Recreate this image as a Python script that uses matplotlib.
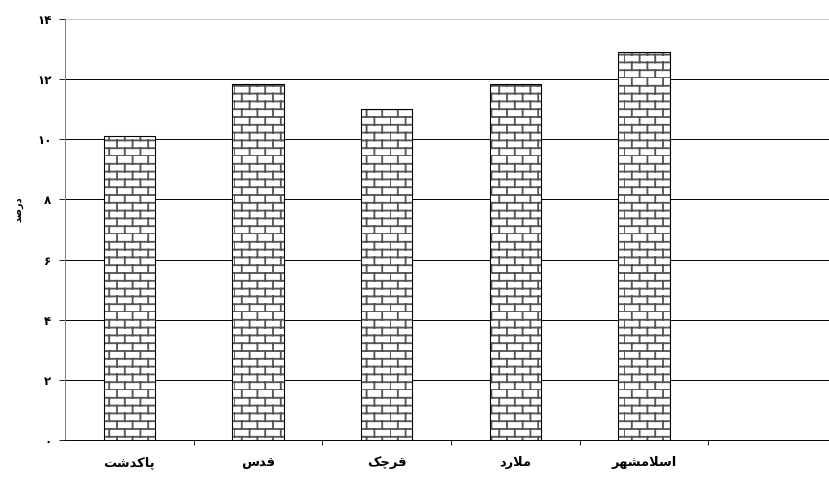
import warnings
warnings.filterwarnings("ignore")
import numpy as np
import matplotlib
matplotlib.use("Agg")
import matplotlib.pyplot as plt
import matplotlib.hatch as mhatch
from matplotlib.path import Path
from matplotlib.ticker import FixedLocator, FuncFormatter

# ---------------- data ----------------
categories = ["پاکدشت", "قدس", "قرچک", "ملارد", "اسلامشهر"]
values = [10.1, 11.85, 11.0, 11.85, 12.9]
y_ticks = [0, 2, 4, 6, 8, 10, 12, 14]
y_label = "درصد"

# ---------------- simple Persian shaping ----------------
FORMS = {  # iso, fin, ini, med (None -> right-joining only)
    "\u0627": ("\uFE8D", "\uFE8E", None, None),
    "\u067E": ("\uFB56", "\uFB57", "\uFB58", "\uFB59"),
    "\u062A": ("\uFE95", "\uFE96", "\uFE97", "\uFE98"),
    "\u0686": ("\uFB7A", "\uFB7B", "\uFB7C", "\uFB7D"),
    "\u062F": ("\uFEA9", "\uFEAA", None, None),
    "\u0631": ("\uFEAD", "\uFEAE", None, None),
    "\u0633": ("\uFEB1", "\uFEB2", "\uFEB3", "\uFEB4"),
    "\u0634": ("\uFEB5", "\uFEB6", "\uFEB7", "\uFEB8"),
    "\u0635": ("\uFEB9", "\uFEBA", "\uFEBB", "\uFEBC"),
    "\u0642": ("\uFED5", "\uFED6", "\uFED7", "\uFED8"),
    "\u06A9": ("\uFB8E", "\uFB8F", "\uFB90", "\uFB91"),
    "\u0644": ("\uFEDD", "\uFEDE", "\uFEDF", "\uFEE0"),
    "\u0645": ("\uFEE1", "\uFEE2", "\uFEE3", "\uFEE4"),
    "\u0647": ("\uFEE9", "\uFEEA", "\uFEEB", "\uFEEC"),
    "LA": ("\uFEFB", "\uFEFC", None, None),
}


def shape(text):
    toks = []
    i = 0
    while i < len(text):
        if text[i] == "\u0644" and i + 1 < len(text) and text[i + 1] == "\u0627":
            toks.append("LA")
            i += 2
        else:
            toks.append(text[i])
            i += 1
    out = []
    for k, t in enumerate(toks):
        f = FORMS.get(t)
        if f is None:
            out.append(t)
            continue
        prev = FORMS.get(toks[k - 1]) if k > 0 else None
        nxt = FORMS.get(toks[k + 1]) if k + 1 < len(toks) else None
        jp = prev is not None and prev[2] is not None
        jn = nxt is not None and f[2] is not None
        if jp and jn:
            out.append(f[3])
        elif jp:
            out.append(f[1])
        elif jn:
            out.append(f[2])
        else:
            out.append(f[0])
    return "".join(reversed(out))


FA_DIGITS = "۰۱۲۳۴۵۶۷۸۹"


def fa_num(v, pos=None):
    return "".join(FA_DIGITS[int(c)] if c.isdigit() else c for c in str(int(round(v))))


# ---------------- brick hatch ----------------
class BrickHatch(mhatch.HatchPatternBase):
    ROWS = 10
    COLS = 5

    def __init__(self, hatch, density):
        self.on = "B" in hatch
        n = (self.ROWS + self.ROWS * self.COLS) if self.on else 0
        self.num_lines = n
        self.num_vertices = 2 * n

    def set_vertices_and_codes(self, vertices, codes):
        pts = []
        h = 1.0 / self.ROWS
        for r in range(self.ROWS):
            y = r * h
            pts += [(0.0, y), (1.0, y)]
            off = (0.5 / self.COLS) if r % 2 else 0.0
            for c in range(self.COLS):
                x = c / self.COLS + off
                pts += [(x, y), (x, y + h)]
        vertices[:] = np.array(pts)
        codes[0::2] = Path.MOVETO
        codes[1::2] = Path.LINETO


mhatch._hatch_types.append(BrickHatch)

# ---------------- figure ----------------
DPI = 78
W, H = 829, 483
plt.rcParams["font.family"] = ["DejaVu Sans"]
plt.rcParams["hatch.linewidth"] = 1.7
fig = plt.figure(figsize=(W / DPI, H / DPI), dpi=DPI)
left, right = 65, 837
top, bottom = 19, 440
ax = fig.add_axes([left / W, 1 - bottom / H, (right - left) / W, (bottom - top) / H])

x = np.arange(len(categories))
ax.bar(x, values, width=0.4, color="white", edgecolor="#555555", hatch="B",
       linewidth=0, zorder=2)
ax.bar(x, values, width=0.4, fill=False, edgecolor="black", linewidth=1.0, zorder=3)

ax.set_xlim(-0.5, 5.5)
ax.set_ylim(0, 14)
ax.set_axisbelow(True)

ax.yaxis.set_major_locator(FixedLocator(y_ticks))
ax.yaxis.set_major_formatter(FuncFormatter(fa_num))
ax.yaxis.grid(True, color="black", linewidth=0.9)
ax.tick_params(axis="y", direction="out", length=5.5, width=0.8, pad=7,
               labelsize=11, color="black")
for lab in ax.get_yticklabels():
    lab.set_fontweight("bold")

ax.set_xticks(x)
ax.set_xticklabels([shape(c) for c in categories], fontsize=12, fontweight="bold")
ax.tick_params(axis="x", which="major", length=0, pad=15)
ax.set_xticks(np.arange(0.5, 5.0, 1.0), minor=True)
ax.tick_params(axis="x", which="minor", direction="out", length=5, width=0.8)

for sp in ("top", "right"):
    ax.spines[sp].set_visible(False)
ax.spines["left"].set_color("#808080")
ax.spines["left"].set_linewidth(0.9)
ax.spines["bottom"].set_color("black")
ax.spines["bottom"].set_linewidth(0.9)

fig.canvas.draw()
gl = ax.yaxis.get_gridlines()
gl[-1].set_color("#c8c8c8")

fig.text(18 / W, 1 - 209 / H, shape(y_label), rotation=90, ha="center", va="center",
         fontsize=9, fontweight="bold")

fig.savefig("out.png", dpi=DPI)
